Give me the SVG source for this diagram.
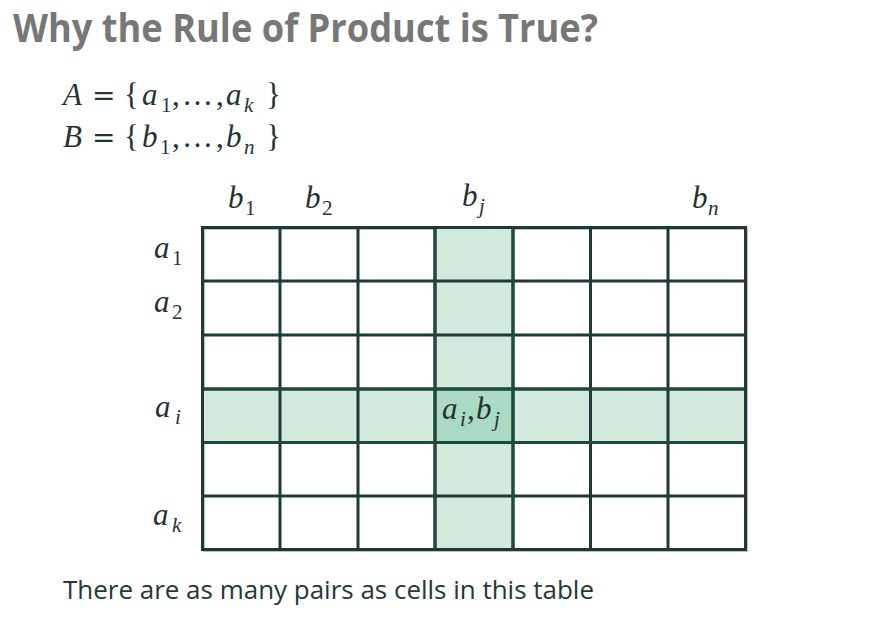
<svg xmlns="http://www.w3.org/2000/svg" width="879" height="643" viewBox="0 0 879 643">
<style>
.title{font-family:"Open Sans","Liberation Sans",sans-serif;font-weight:bold;font-size:40px;fill:#777777}
.foot{font-family:"Open Sans","Liberation Sans",sans-serif;font-size:26px;fill:#243838}
.m{font-family:"Liberation Serif","DejaVu Serif",serif;font-size:31px;fill:#1f3333}
.i{font-style:italic}
.s{font-size:21px;font-style:normal}
.si{font-size:21px;font-style:italic}
.eq{font-family:"DejaVu Serif",serif;font-size:28px}
.grid{fill:none;stroke:#1f3838;stroke-width:3;stroke-linecap:square}
.hl{fill:none;stroke:#1e4a3a;stroke-width:3}
</style>
<rect width="879" height="643" fill="#ffffff"/>
<g id="title"><text class="title" x="13" y="42" textLength="585" lengthAdjust="spacingAndGlyphs">Why the Rule of Product is True?</text></g>
<g id="setA"><text class="m"><tspan class="i" x="63" y="105">A</tspan><tspan class="eq" x="92" y="105">=</tspan><tspan x="124" y="105">{</tspan><tspan class="i" x="142" y="105">a</tspan><tspan class="s" x="161" y="112">1</tspan><tspan x="172" y="105">,</tspan><tspan x="182" y="105">…</tspan><tspan x="216" y="105">,</tspan><tspan class="i" x="226" y="105">a</tspan><tspan class="si" x="244" y="112">k</tspan><tspan x="266" y="105">}</tspan></text></g>
<g id="setB"><text class="m"><tspan class="i" x="63" y="147">B</tspan><tspan class="eq" x="92" y="147">=</tspan><tspan x="124" y="147">{</tspan><tspan class="i" x="142" y="147">b</tspan><tspan class="s" x="160" y="154">1</tspan><tspan x="172" y="147">,</tspan><tspan x="182" y="147">…</tspan><tspan x="216" y="147">,</tspan><tspan class="i" x="226" y="147">b</tspan><tspan class="si" x="244" y="154">n</tspan><tspan x="266" y="147">}</tspan></text></g>
<g id="col-b1"><text class="m"><tspan class="i" x="228" y="208">b</tspan><tspan class="s" x="245" y="215">1</tspan></text></g>
<g id="col-b2"><text class="m"><tspan class="i" x="305" y="208">b</tspan><tspan class="s" x="322" y="215">2</tspan></text></g>
<g id="col-bj"><text class="m"><tspan class="i" x="462" y="206">b</tspan><tspan class="si" x="479" y="213">j</tspan></text></g>
<g id="col-bn"><text class="m"><tspan class="i" x="692" y="208">b</tspan><tspan class="si" x="708" y="215">n</tspan></text></g>
<g id="row-a1"><text class="m"><tspan class="i" x="154" y="258">a</tspan><tspan class="s" x="172" y="265">1</tspan></text></g>
<g id="row-a2"><text class="m"><tspan class="i" x="154" y="312">a</tspan><tspan class="s" x="172" y="319">2</tspan></text></g>
<g id="row-ai"><text class="m"><tspan class="i" x="155" y="417">a</tspan><tspan class="si" x="175" y="424">i</tspan></text></g>
<g id="row-ak"><text class="m"><tspan class="i" x="153" y="525">a</tspan><tspan class="si" x="172" y="532">k</tspan></text></g>
<g id="table">
<rect x="204" y="229" width="543" height="322" fill="none" stroke="#b8c0c0" stroke-width="2"/>
<rect x="435" y="227.5" width="78" height="322" fill="#d1eadd"/>
<rect x="202.5" y="389" width="543" height="53.5" fill="#d1eadd"/>
<rect x="435" y="389" width="78" height="53.5" fill="#abdac4"/>
<path class="grid" d="M202.5 227.5H745.5M202.5 281H745.5M202.5 335H745.5M202.5 389H745.5M202.5 442.5H745.5M202.5 496H745.5M202.5 549.5H745.5M202.5 227.5V549.5M280 227.5V549.5M358 227.5V549.5M435 227.5V549.5M513 227.5V549.5M590.5 227.5V549.5M668 227.5V549.5M745.5 227.5V549.5"/>
<path class="hl" d="M435 229V548M513 229V548M204 389H744M204 442.5H744"/>
<text class="m"><tspan class="i" x="442" y="419">a</tspan><tspan class="si" x="460" y="426">i</tspan><tspan x="467" y="419">,</tspan><tspan class="i" x="476" y="419">b</tspan><tspan class="si" x="494" y="426">j</tspan></text>
</g>
<g id="footer"><text class="foot" x="63" y="599" textLength="531" lengthAdjust="spacingAndGlyphs">There are as many pairs as cells in this table</text></g>
</svg>
